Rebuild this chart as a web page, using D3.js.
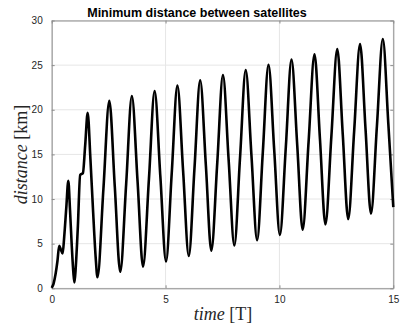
<!DOCTYPE html>
<html>
<head>
<meta charset="utf-8">
<script src="https://cdn.jsdelivr.net/npm/d3@7"></script>
<style>
  html, body { margin: 0; padding: 0; background: #fff; }
  svg { display: block; }
</style>
</head>
<body>
<svg id="chart" width="400" height="332"></svg>
<script>
// Time in orbital periods T and the minimum separation in km
const timeT = [
  0, 0.08, 0.17, 0.25, 0.33, 0.40, 0.48, 0.55, 0.64, 0.73, 0.80, 0.88, 0.95,
  1.00, 1.06, 1.15, 1.25, 1.37, 1.47, 1.58, 1.70, 1.82, 1.93,
  2.01, 2.27, 2.53, 2.77,
  3.01, 3.27, 3.52, 3.77,
  4.01, 4.27, 4.52, 4.77,
  5.02, 5.27, 5.52, 5.77,
  6.02, 6.27, 6.52, 6.77,
  7.01, 7.27, 7.52, 7.77,
  8.02, 8.27, 8.52, 8.77,
  9.02, 9.27, 9.52, 9.77,
  10.02, 10.28, 10.53, 10.78,
  11.02, 11.28, 11.54, 11.78,
  12.02, 12.28, 12.54, 12.78,
  13.02, 13.28, 13.54, 13.78,
  14.02, 14.28, 14.54, 14.78,
  15.0
];
const distanceKm = [
  0.05, 0.5, 1.6, 3.0, 4.75, 4.35, 3.9, 5.8, 9.0, 12.05, 9.0, 4.8, 1.8,
  0.65, 2.5, 7.0, 12.7, 12.9, 16.0, 19.65, 14.5, 8.5, 3.5,
  1.23, 11.1, 21.0, 11.4,
  1.85, 11.7, 21.55, 12.0,
  2.42, 12.26, 22.1, 12.56,
  3.02, 12.86, 22.7, 13.16,
  3.62, 13.46, 23.3, 13.76,
  4.21, 14.06, 23.9, 14.35,
  4.8, 14.63, 24.45, 14.93,
  5.4, 15.23, 25.05, 15.52,
  5.98, 15.8, 25.62, 16.1,
  6.57, 16.4, 26.22, 16.7,
  7.17, 17.0, 26.8, 17.28,
  7.76, 17.56, 27.36, 17.86,
  8.38, 18.15, 27.92, 18.5,
  9.1
];
const xTicks = [0, 5, 10, 15];
const yTicks = [0, 5, 10, 15, 20, 25, 30];
const titleText = "Minimum distance between satellites";

const svg = d3.select("#chart");
const plotLeft = 51.7, plotRight = 393.3, plotTop = 20.5, plotBottom = 288.3;

const x = d3.scaleLinear().domain([0, 15]).range([plotLeft, plotRight]);
const y = d3.scaleLinear().domain([0, 30]).range([plotBottom, plotTop]);

const axisColor = "#8c8c8c";
const textColor = "#262626";
const gridColor = "#e6e6e6";

// grid
const grid = svg.append("g");
grid.selectAll(".gx").data(xTicks).join("line")
  .attr("x1", d => x(d)).attr("x2", d => x(d))
  .attr("y1", plotTop).attr("y2", plotBottom)
  .attr("stroke", gridColor).attr("stroke-width", 1);
grid.selectAll(".gy").data(yTicks).join("line")
  .attr("x1", plotLeft).attr("x2", plotRight)
  .attr("y1", d => y(d)).attr("y2", d => y(d))
  .attr("stroke", gridColor).attr("stroke-width", 1);

// axes with inward ticks on all four sides
function styleAxis(g, showText) {
  g.select(".domain").attr("stroke", axisColor).attr("fill", "none");
  g.selectAll(".tick line").attr("stroke", axisColor);
  g.selectAll(".tick text")
    .attr("fill", textColor)
    .style("font-family", "'Liberation Sans', Arial, sans-serif")
    .style("font-size", "10px")
    .style("display", showText ? null : "none");
}
svg.append("g").attr("transform", `translate(0,${plotBottom})`)
  .call(d3.axisBottom(x).tickValues(xTicks).tickSize(-3).tickSizeOuter(0).tickPadding(8))
  .call(g => styleAxis(g, true));
svg.append("g").attr("transform", `translate(0,${plotTop})`)
  .call(d3.axisTop(x).tickValues(xTicks).tickSize(-3).tickSizeOuter(0))
  .call(g => styleAxis(g, false));
svg.append("g").attr("transform", `translate(${plotLeft},0)`)
  .call(d3.axisLeft(y).tickValues(yTicks).tickSize(-3).tickSizeOuter(0).tickPadding(9))
  .call(g => styleAxis(g, true));
svg.append("g").attr("transform", `translate(${plotRight},0)`)
  .call(d3.axisRight(y).tickValues(yTicks).tickSize(-3).tickSizeOuter(0))
  .call(g => styleAxis(g, false));

// distance curve
const line = d3.line()
  .x((d, i) => x(timeT[i]))
  .y(d => y(d))
  .curve(d3.curveMonotoneX);
svg.append("path")
  .datum(distanceKm)
  .attr("d", line)
  .attr("fill", "none")
  .attr("stroke", "#000")
  .attr("stroke-width", 2.6)
  .attr("stroke-linejoin", "round");

// title
svg.append("text")
  .attr("x", 197).attr("y", 16.5)
  .attr("text-anchor", "middle")
  .style("font-family", "'Liberation Sans', Arial, sans-serif")
  .style("font-weight", "bold")
  .style("font-size", "12.5px")
  .attr("fill", "#000")
  .text(titleText);

// axis labels (math italic variable, upright unit)
const xl = svg.append("text")
  .attr("x", 223).attr("y", 320)
  .attr("text-anchor", "middle")
  .style("font-family", "'Liberation Serif', 'Times New Roman', serif")
  .style("font-size", "18px")
  .attr("fill", textColor);
xl.append("tspan").style("font-style", "italic").text("time");
xl.append("tspan").text(" [T]");

const yl = svg.append("text")
  .attr("transform", "translate(27,154.5) rotate(-90)")
  .attr("text-anchor", "middle")
  .style("font-family", "'Liberation Serif', 'Times New Roman', serif")
  .style("font-size", "18px")
  .attr("fill", textColor);
yl.append("tspan").style("font-style", "italic").text("distance");
yl.append("tspan").text(" [km]");
</script>
</body>
</html>
